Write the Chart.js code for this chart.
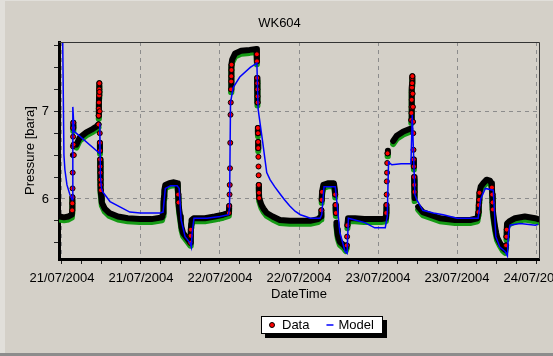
<!DOCTYPE html>
<html>
<head>
<meta charset="utf-8">
<title>WK604</title>
<script src="https://cdn.jsdelivr.net/npm/chart.js@4.4.1/dist/chart.umd.min.js"></script>
<style>
  html, body { margin: 0; padding: 0; background: #d4d0c8; }
  #wrap { width: 553px; height: 356px; }
</style>
</head>
<body>
<div id="wrap"><canvas id="pressureChart" width="553" height="356"></canvas></div>
<script>
// hours after 21/07/2004 00:00
const startDay = new Date(2004, 6, 21);

// measured pressure (bara)
const dataHours = [
  -0.40, 0.30, 1.00, 1.50,
  1.55, 1.57, 1.59, 1.61, 1.63, 1.65, 1.67, 1.69, 1.71, 1.73, 1.76, 1.80,
  2.2, 2.7, 3.7, 4.7, 5.3, 5.55,
  5.58, 5.60, 5.62, 5.64, 5.66, 5.68, 5.70, 5.72, 5.74, 5.76, 5.78, 5.80, 5.82, 5.84, 5.86, 5.88, 5.92, 5.97,
  6.05, 6.5, 7.2, 8.5, 10.0, 11.8, 13.6, 15.2,
  15.35, 15.40, 15.45, 15.50, 15.55, 15.7, 16.3, 17.0, 17.5,
  17.6, 17.65, 17.7, 17.8, 17.95, 18.05, 18.15, 18.4, 18.9, 19.3, 19.5,
  19.55, 19.58, 19.62, 19.68, 20.0, 21.7, 23.2, 24.5, 25.35,
  25.40, 25.45, 25.48, 25.52, 25.56, 25.60, 25.64, 25.68, 25.70, 25.72, 25.74, 25.76, 25.85,
  26.3, 27.2, 28.5, 29.55,
  29.60, 29.62, 29.64, 29.66, 29.68, 29.70, 29.72, 29.75, 29.77, 29.79, 29.81, 29.83, 29.85, 29.87, 29.89, 29.92, 29.96,
  30.3, 30.6, 31.1, 32.0, 33.1, 34.6, 36.2, 37.7, 38.9,
  39.35, 39.40, 39.45, 39.50, 39.7, 40.5, 41.3,
  41.45, 41.50, 41.55, 41.60, 41.68, 41.78, 41.9, 42.2, 42.7, 43.1,
  43.25, 43.3, 43.35, 43.45, 44.5, 45.9, 47.3, 48.5, 49.2,
  49.25, 49.28, 49.31, 49.34, 49.37, 49.40, 49.45, 49.5, 50.3, 50.85, 51.85, 52.9,
  53.05, 53.08, 53.10, 53.12, 53.14, 53.16, 53.18, 53.20, 53.22,
  53.26, 53.30, 53.33, 53.36, 53.39, 53.42, 53.45, 53.48, 53.51, 53.55, 53.6,
  54.1, 54.8, 55.9, 57.4, 59.7, 62.0, 63.1,
  63.25, 63.3, 63.35, 63.4, 63.6, 64.0, 64.5, 65.0, 65.2,
  65.3, 65.35, 65.4, 65.45, 65.55, 65.68, 65.8, 65.95, 66.1, 66.5, 67.0, 67.3,
  67.45, 67.5, 67.55, 67.6, 68.05, 68.8, 70.3, 71.85, 72.3
];
const dataPressure = [
  5.80, 5.79, 5.80, 5.82,
  5.87, 5.95, 6.02, 6.12, 6.30, 6.50, 6.60, 6.71, 6.81, 6.87, 6.62, 6.50,
  6.62, 6.70, 6.76, 6.80, 6.83, 6.85,
  6.95, 7.03, 7.10, 7.18, 7.25, 7.32, 7.22, 7.00, 6.75, 6.64, 6.55, 6.45, 6.37, 6.30, 6.22, 6.16, 6.10, 6.03,
  5.96, 5.89, 5.84, 5.80, 5.78, 5.77, 5.77, 5.79,
  5.84, 5.91, 5.97, 6.03, 6.10, 6.16, 6.18, 6.19, 6.18,
  6.12, 6.05, 5.96, 5.88, 5.80, 5.74, 5.68, 5.61, 5.56, 5.52, 5.50,
  5.58, 5.65, 5.71, 5.76, 5.78, 5.78, 5.80, 5.82, 5.84,
  5.92, 6.05, 6.16, 6.35, 6.64, 6.96, 7.10, 7.25, 7.34, 7.40, 7.47, 7.53, 7.59,
  7.66, 7.69, 7.70, 7.71,
  7.65, 7.57, 7.38, 7.32, 7.25, 7.17, 7.10, 6.81, 6.75, 6.65, 6.58, 6.48, 6.37, 6.27, 6.16, 6.07, 6.01,
  5.93, 5.89, 5.84, 5.80, 5.76, 5.75, 5.75, 5.75, 5.77,
  5.80, 5.87, 5.99, 6.08, 6.16, 6.18, 6.18,
  6.10, 6.05, 5.93, 5.84, 5.73, 5.65, 5.58, 5.51, 5.48, 5.44,
  5.47, 5.57, 5.70, 5.78, 5.78, 5.77, 5.77, 5.77, 5.78,
  5.84, 5.93, 6.05, 6.20, 6.30, 6.41, 6.52, 6.55, 6.66, 6.72, 6.77, 6.80,
  6.90, 6.98, 7.05, 7.13, 7.21, 7.27, 7.32, 7.38, 7.40,
  7.20, 7.05, 6.88, 6.75, 6.56, 6.45, 6.37, 6.25, 6.16, 6.08, 6.01,
  5.91, 5.85, 5.82, 5.78, 5.76, 5.76, 5.78,
  5.85, 5.93, 5.99, 6.07, 6.14, 6.18, 6.22, 6.21, 6.18,
  6.13, 6.05, 5.96, 5.88, 5.80, 5.73, 5.67, 5.61, 5.56, 5.50, 5.44, 5.42,
  5.47, 5.57, 5.65, 5.72, 5.75, 5.78, 5.80, 5.78, 5.77
];

// model pressure (bara)
const modelHours = [
  0.10, 0.30, 0.45, 0.76, 1.20, 1.55, 1.65, 1.85, 5.70, 5.75, 5.85, 6.0, 6.2, 7.3, 8.8, 10.3, 11.9, 14.9,
  15.35, 15.7, 16.5, 17.5, 17.8, 18.1, 18.7, 19.45, 19.65, 19.75, 20.05, 22.0, 24.0, 25.3,
  25.45, 25.6, 26.0, 27.0, 28.6, 29.6, 29.8, 30.5, 31.1, 31.6, 32.3, 33.1, 33.8, 34.6, 35.4, 36.2, 37.0, 37.7, 39.2,
  39.45, 39.8, 41.5, 41.8, 42.2, 43.0, 43.3, 43.5, 44.5, 46.0, 47.5, 49.1,
  49.4, 49.6, 50.1, 51.5, 53.0, 53.2, 53.6, 53.9, 54.8, 56.4, 57.9, 60.0, 63.2,
  63.6, 64.3, 65.5, 65.9, 66.5, 67.3, 67.65, 67.8, 68.05, 69.6, 71.9, 72.3
];
const modelPressure = [
  7.90, 6.50, 6.33, 6.16, 6.05, 5.99, 7.05, 6.77, 6.52, 6.86, 6.25, 6.12, 6.08, 5.97, 5.91, 5.85, 5.84, 5.84,
  5.85, 6.12, 6.15, 6.15, 6.12, 5.76, 5.57, 5.50, 5.45, 5.60, 5.78, 5.78, 5.80, 5.82,
  5.90, 7.10, 7.27, 7.39, 7.50, 7.55, 7.02, 6.64, 6.30, 6.22, 6.14, 6.06, 5.99, 5.92, 5.86, 5.82, 5.80, 5.78, 5.78,
  5.82, 6.14, 6.14, 5.93, 5.62, 5.40, 5.38, 5.78, 5.76, 5.73, 5.67, 5.67,
  5.80, 6.42, 6.39, 6.40, 6.40, 6.96, 6.05, 5.99, 5.87, 5.84, 5.82, 5.78, 5.78,
  6.00, 6.12, 6.10, 5.57, 5.45, 5.40, 5.35, 5.60, 5.70, 5.72, 5.70, 5.71
];

// tick positions: every 3 hours / every 0.25 bara, labelled every 12 hours / every bara
const xTickHours = [0, 3, 6, 9, 12, 15, 18, 21, 24, 27, 30, 33, 36, 39, 42, 45, 48, 51, 54, 57, 60, 63, 66, 69, 72];
const yTickValues = [5.5, 5.75, 6, 6.25, 6.5, 6.75, 7, 7.25, 7.5, 7.75];

const fontFamily = '"Liberation Sans", Arial, sans-serif';
Chart.defaults.font.family = fontFamily;
Chart.defaults.font.size = 13;
Chart.defaults.color = '#000';

function dayLabel(h) {
  const d = new Date(startDay.getTime() + h * 3600000);
  return String(d.getDate()).padStart(2, '0') + '/' +
         String(d.getMonth() + 1).padStart(2, '0') + '/' + d.getFullYear();
}

const measured = dataHours.map((h, i) => ({ x: h, y: dataPressure[i] }));
const modelled = modelHours.map((h, i) => ({ x: h, y: modelPressure[i] }));

// samples on fast pressure changes stand apart, elsewhere they merge into the trace
function onFastChange(i) {
  const rate = (a, b) => Math.abs(dataPressure[b] - dataPressure[a]) /
    Math.max(Math.abs(dataHours[b] - dataHours[a]), 1e-6);
  const before = i > 0 ? rate(i - 1, i) : 0;
  const after = i < dataHours.length - 1 ? rate(i, i + 1) : 0;
  return Math.max(before, after) > 1.5;
}

// no connecting line across fast jumps, only the separate samples
const steepHidden = color => c => Math.abs(c.p1.y - c.p0.y) > 8 ? 'rgba(0,0,0,0)' : color;

// window frame + top/right edge of the plot box
const framePlugin = {
  id: 'frame',
  beforeDraw(chart) {
    const ctx = chart.ctx;
    ctx.save();
    ctx.fillStyle = '#d4d0c8';
    ctx.fillRect(0, 0, chart.width, chart.height);
    ctx.fillStyle = '#e1dfda';
    ctx.fillRect(0, 0, 5, chart.height - 3);
    ctx.fillRect(0, 0, chart.width, 1);
    ctx.fillStyle = '#8c8c8c';
    ctx.fillRect(0, chart.height - 3, chart.width, 3);
    ctx.restore();
  },
  afterDraw(chart) {
    const { ctx, chartArea: a } = chart;
    ctx.save();
    ctx.strokeStyle = '#333';
    ctx.lineWidth = 1;
    ctx.beginPath();
    ctx.moveTo(a.left, a.top + 0.5);
    ctx.lineTo(a.right + 0.5, a.top + 0.5);
    ctx.lineTo(a.right + 0.5, a.bottom);
    ctx.stroke();
    ctx.restore();
  }
};

// the green band sits a few pixels under the measured trace
const shadowPlugin = {
  id: 'shadowShift',
  beforeDatasetDraw(chart, args) {
    if (chart.data.datasets[args.index].shadow) {
      chart.ctx.save();
      chart.ctx.translate(0, 3);
    }
  },
  afterDatasetDraw(chart, args) {
    if (chart.data.datasets[args.index].shadow) chart.ctx.restore();
  }
};

// boxed legend with a drop shadow
const legendPlugin = {
  id: 'boxLegend',
  afterDraw(chart) {
    const ctx = chart.ctx;
    const x = 261, y = 316, w = 122, h = 18;
    const cy = y + h / 2;
    ctx.save();
    ctx.fillStyle = '#000';
    ctx.fillRect(x + 4, y + 4, w, h);
    ctx.fillStyle = '#fff';
    ctx.fillRect(x, y, w, h);
    ctx.strokeStyle = '#000';
    ctx.lineWidth = 1;
    ctx.strokeRect(x + 0.5, y + 0.5, w - 1, h - 1);
    ctx.font = '13px ' + fontFamily;
    ctx.textBaseline = 'middle';
    let cursor = x + 7;
    chart.data.datasets.filter(ds => !ds.shadow).forEach(ds => {
      if (ds.legendMarker === 'dot') {
        ctx.beginPath();
        ctx.arc(cursor + 4, cy, 2.5, 0, Math.PI * 2);
        ctx.fillStyle = ds.pointBackgroundColor;
        ctx.fill();
        ctx.strokeStyle = ds.pointBorderColor;
        ctx.lineWidth = 1;
        ctx.stroke();
        cursor += 14;
      } else {
        ctx.beginPath();
        ctx.moveTo(cursor, cy);
        ctx.lineTo(cursor + 7, cy);
        ctx.strokeStyle = ds.borderColor;
        ctx.lineWidth = 1.5;
        ctx.stroke();
        cursor += 12;
      }
      ctx.fillStyle = '#000';
      ctx.fillText(ds.label, cursor, cy);
      cursor += ctx.measureText(ds.label).width + 17;
    });
    ctx.restore();
  }
};

const config = {
  type: 'line',
  data: {
    datasets: [
      {
        label: 'Data band',
        shadow: true,
        data: measured,
        borderColor: '#159a15',
        borderWidth: 6,
        borderCapStyle: 'round',
        borderJoinStyle: 'round',
        segment: { borderColor: steepHidden('#159a15') },
        pointRadius: 0,
        order: 3
      },
      {
        label: 'Data',
        legendMarker: 'dot',
        data: measured,
        borderColor: '#000',
        borderWidth: 6,
        borderCapStyle: 'round',
        borderJoinStyle: 'round',
        segment: { borderColor: steepHidden('#000') },
        pointRadius: c => (onFastChange(c.dataIndex) ? 2.5 : 0),
        pointBorderWidth: 1,
        pointBackgroundColor: '#ff0000',
        pointBorderColor: '#000',
        order: 2
      },
      {
        label: 'Model',
        legendMarker: 'line',
        data: modelled,
        borderColor: '#0000ff',
        borderWidth: 1.5,
        pointRadius: 0,
        order: 1
      }
    ]
  },
  options: {
    responsive: false,
    animation: false,
    events: [],
    layout: { padding: { left: 20, right: 14, top: 0, bottom: 52 } },
    plugins: {
      legend: { display: false },
      tooltip: { enabled: false },
      title: {
        display: true,
        text: 'WK604',
        color: '#000',
        font: { size: 13, weight: 'normal' },
        padding: { top: 16, bottom: 10.4 }
      }
    },
    scales: {
      x: {
        type: 'linear',
        min: -0.45,
        max: 72.45,
        afterBuildTicks: s => { s.ticks = xTickHours.map(v => ({ value: v })); },
        afterFit: s => { s.height = 45; s.paddingLeft = 0; s.paddingRight = 0; },
        ticks: {
          autoSkip: false,
          maxRotation: 0,
          minRotation: 0,
          padding: 7,
          color: '#000',
          font: { size: 13 },
          callback: v => (v % 12 === 0 ? dayLabel(v) : '')
        },
        grid: {
          color: c => (c.tick && c.tick.value % 12 === 0 ? '#8c8c8c' : 'rgba(0,0,0,0)'),
          lineWidth: 1,
          tickLength: 5,
          tickColor: '#222',
          tickBorderDash: []
        },
        border: { display: true, width: 3, color: '#000', dash: [4, 4] },
        title: {
          display: true,
          text: 'DateTime',
          color: '#000',
          font: { size: 13 },
          padding: { top: 0, bottom: 1.7 }
        }
      },
      y: {
        type: 'linear',
        min: 5.315,
        max: 7.79,
        afterBuildTicks: s => { s.ticks = yTickValues.map(v => ({ value: v })); },
        afterFit: s => { s.width = 39; s.paddingTop = 0; s.paddingBottom = 0; },
        ticks: {
          autoSkip: false,
          padding: 5,
          color: '#000',
          font: { size: 13 },
          callback: v => (Number.isInteger(v) ? String(v) : '')
        },
        grid: {
          color: c => (c.tick && Number.isInteger(c.tick.value) ? '#8c8c8c' : 'rgba(0,0,0,0)'),
          lineWidth: 1,
          tickLength: 5,
          tickColor: '#222',
          tickBorderDash: []
        },
        border: { display: true, width: 3, color: '#000', dash: [4, 4] },
        title: {
          display: true,
          text: 'Pressure [bara]',
          color: '#000',
          font: { size: 13 },
          padding: { top: 2.2, bottom: 0 }
        }
      }
    }
  },
  plugins: [framePlugin, shadowPlugin, legendPlugin]
};

window.onload = () => {
  const ctx = document.getElementById('pressureChart').getContext('2d');
  new Chart(ctx, config);
};
</script>
</body>
</html>
